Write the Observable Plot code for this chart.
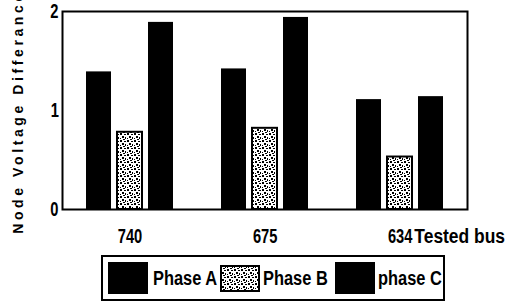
<!DOCTYPE html>
<html>
<head>
<meta charset="utf-8">
<script src="https://cdn.jsdelivr.net/npm/d3@7"></script>
<script src="https://cdn.jsdelivr.net/npm/@observablehq/plot@0.6"></script>
<style>
  html, body { margin: 0; padding: 0; background: #fff; }
  #wrap { position: relative; width: 508px; height: 305px; overflow: hidden; background: #fff; }
  #legend { position: absolute; left: 101px; top: 255px; width: 344px; height: 46px; box-sizing: border-box;
            border: 2px solid #000; display: flex; align-items: center;
            font-family: "Liberation Sans", Arial, sans-serif; font-weight: bold; }
  #legend .sw { display: block; flex: none; }
  #legend .labbox { display: block; flex: none; width: 65px; overflow: visible; white-space: nowrap; }
  #legend .lab { display: inline-block; font-size: 20px; line-height: 20px; color: #000;
                 transform: scaleX(0.82); transform-origin: left center; }
</style>
</head>
<body>
<svg width="0" height="0" style="position:absolute">
  <defs>
    <pattern id="stipple" width="7" height="7" patternUnits="userSpaceOnUse">
      <rect width="7" height="7" fill="#fff"/>
      <rect x="0" y="0" width="2" height="2" fill="#000"/>
      <rect x="4" y="1" width="2" height="1" fill="#000"/>
      <rect x="2" y="3" width="2" height="2" fill="#000"/>
      <rect x="5" y="4" width="1" height="2" fill="#000"/>
      <rect x="0" y="5" width="1" height="1" fill="#000"/>
      <rect x="3" y="6" width="2" height="1" fill="#000"/>
    </pattern>
  </defs>
</svg>
<div id="wrap">
  <div id="chart"></div>
  <div id="legend"></div>
</div>
<script>
const buses = ["740", "675", "634"];
const phaseKeys = ["A", "B", "C"];
const phaseNames = ["Phase A", "Phase B", "phase C"];
const phaseA = [1.39, 1.42, 1.11];
const phaseB = [0.78, 0.82, 0.53];
const phaseC = [1.89, 1.94, 1.14];
const yTicks = [0, 1, 2];
const yLabel = "Node Voltage Differance";
const xLabel = "Tested bus";

const series = {A: phaseA, B: phaseB, C: phaseC};
const data = buses.flatMap((bus, i) => phaseKeys.map(p => ({bus, phase: p, value: series[p][i]})));

const chart = Plot.plot({
  width: 508,
  height: 250,
  marginLeft: 61,
  marginRight: 40,
  marginTop: 11,
  marginBottom: 41,
  style: {background: "#fff", color: "#000", fontSize: "21px", fontFamily: "'Liberation Sans', Arial, sans-serif", fontWeight: "bold", overflow: "visible"},
  facet: {data: data, x: "bus"},
  fx: {domain: buses, paddingInner: 0, paddingOuter: 0, label: null, axis: "bottom", tickSize: 0, tickPadding: 19},
  x: {domain: phaseKeys, paddingInner: 0.2, paddingOuter: 0.72, axis: null},
  y: {domain: [0, 2], ticks: yTicks, tickFormat: d3.format("d"), tickSize: 0, tickPadding: 4, label: null},
  marks: [
    Plot.barY(data, {filter: d => d.phase === "A", x: "phase", y: "value", fill: "#000"}),
    Plot.barY(data, {filter: d => d.phase === "B", x: "phase", y: "value", fill: "url(#stipple)", stroke: "#000", strokeWidth: 2}),
    Plot.barY(data, {filter: d => d.phase === "C", x: "phase", y: "value", fill: "#000"}),
    Plot.frame({facet: "super", stroke: "#000", strokeWidth: 2})
  ]
});
document.getElementById("chart").appendChild(chart);

// horizontally condense text (the reference uses a narrow bold face), keeping its anchor in place
function squeeze(el, s) {
  const anchor = getComputedStyle(el).textAnchor;
  const r0 = el.getBoundingClientRect();
  const t = el.getAttribute("transform") || "";
  el.setAttribute("transform", `${t} scale(${s},1)`);
  const r1 = el.getBoundingClientRect();
  let dx;
  if (anchor === "end") dx = r0.right - r1.right;
  else if (anchor === "middle") dx = (r0.left + r0.right - r1.left - r1.right) / 2;
  else dx = r0.left - r1.left;
  el.setAttribute("transform", `translate(${dx},0) ${t} scale(${s},1)`);
}
const svg = d3.select(chart);
svg.selectAll("text").each(function() { squeeze(this, 0.7); });

// y-axis title
svg.append("text")
  .attr("transform", "translate(18,112) rotate(-90)")
  .attr("text-anchor", "middle")
  .attr("dominant-baseline", "central")
  .attr("font-size", 14)
  .attr("font-weight", "bold")
  .style("letter-spacing", "3.6px")
  .text(yLabel);

// x-axis title next to the last tick
svg.append("text")
  .attr("transform", "translate(505,243) scale(0.83,1)")
  .attr("text-anchor", "end")
  .attr("font-size", 21)
  .text(xLabel);

// legend
const legend = d3.select("#legend");
const gaps = [[5, 5], [2, 3], [7, 3]];
phaseKeys.forEach((k, i) => {
  const s = legend.append("svg").attr("class", "sw").attr("width", 40).attr("height", 32)
    .style("margin-left", gaps[i][0] + "px");
  if (k === "B") {
    s.append("rect").attr("x", 1).attr("y", 4).attr("width", 38).attr("height", 25)
      .attr("fill", "url(#stipple)").attr("stroke", "#000").attr("stroke-width", 2);
  } else {
    s.append("rect").attr("x", 0).attr("y", 0).attr("width", 40).attr("height", 32).attr("fill", "#000");
  }
  legend.append("span").attr("class", "labbox").style("margin-left", gaps[i][1] + "px")
    .append("span").attr("class", "lab").text(phaseNames[i]);
});
</script>
</body>
</html>
